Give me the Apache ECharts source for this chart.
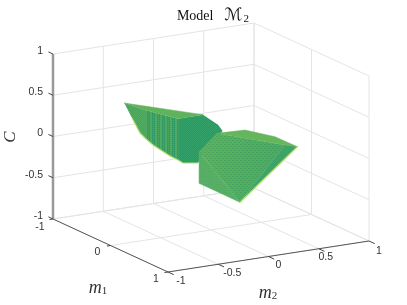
<!DOCTYPE html>
<html><head><meta charset="utf-8">
<style>html,body{margin:0;padding:0;background:#fff}#c{width:407px;height:305px;filter:blur(0.5px)}</style>
<script src="https://cdn.jsdelivr.net/npm/echarts@6/dist/echarts.min.js"></script>
</head><body><div id="c"></div>
<script>
// tick values
const m1Ticks=[-1,0,1];
const m2Ticks=[-1,-0.5,0,0.5,1];
const cTicks=[-1,-0.5,0,0.5,1];
const m1Labels=['-1','0','1'];
const m2Labels=['-1','-0.5','0','0.5','1'];
const cLabels=['-1','-0.5','0','0.5','1'];
// solid vertices: left wing
const leftM1=[-0.5,0,0.5,0,0,0,0.5,0.5,0.5,0.5,0.5,0,0,0,-0.5];
const leftM2=[-0.577,-0.657,-0.614,-0.08,0.07,0.116,-0.346,-0.415,-0.565,-0.614,-0.694,-0.577,-0.657,-0.706,-0.5];
const leftC=[0.487,0.578,0.625,0.413,0.263,0.178,0.195,0.051,0.079,0.124,0.188,0.139,0.239,0.308,0.291];
// right wing
const rightM1=[0.5,0,-0.5,-0.5,0,0.5,0.5,0.5];
const rightM2=[-0.405,0.057,0.624,0.923,0.859,0.45,0.002,-0.405];
const rightC=[0.186,0.161,-0.066,-0.203,-0.152,0.106,-0.504,-0.197];
// faces as vertex indices
const leftFaces=[[0,14,13,12,1],[1,12,11,10,9,2],[2,3,4,5,6,7,8,9],[0,1,2,3]];
const rightFaces=[[0,7,6],[0,1,5,6],[5,4,6],[1,2,3,4,5]];
const leftEdge=[14,13,12,11,10,9,8,7];
const rightEdge=[6,4];

// view of the 3D box, normalised to the hidden axes
function project(m1,m2,c){
  return [(57.5*m1+100.5*m2)/158,(-26.5*m1+15.5*m2+82.5*c)/124.5];
}
function tex(w,h,bg,fg,cells){
  const cv=document.createElement('canvas');cv.width=w;cv.height=h;
  const g=cv.getContext('2d');
  if(bg){g.fillStyle=bg;g.fillRect(0,0,w,h);}
  g.fillStyle=fg;cells.forEach(p=>g.fillRect(p[0],p[1],p[2]||1,p[3]||1));
  return {image:cv,repeat:'repeat'};
}
const stripes=tex(5,2,'#329c68','#50a963',[[0,0,2,2],[3,0,1,1]]);
const fine=tex(2,2,'#2a9869','#33a069',[[0,0],[1,1]]);
const fineL=tex(2,2,'#45a566','#52ab62',[[0,0],[1,1]]);
const dots=tex(4,4,null,'rgba(45,150,100,0.4)',[[0,0,2,1],[2,2,2,1]]);
const fineDots=tex(2,2,null,'rgba(45,150,100,0.2)',[[0,0]]);
const leftFills=[fineL,stripes,fine,'#60b35c'];
const lin=(x1,y1,x2,y2,a,b)=>({type:'linear',x:x1,y:y1,x2:x2,y2:y2,colorStops:[{offset:0,color:a},{offset:1,color:b}]});
const rightFills=['#5bb05e',lin(0,0,1,0.2,'#60b25d','#4caa61'),'#40a465','#64b55c'];
const rightOver=[fineDots,dots,fineDots,null];

const P=(i,m1,m2,c)=>project(m1[i],m2[i],c[i]);
function polyEl(api,pts,fill){
  return {type:'polygon',shape:{points:pts.map(p=>api.coord(p))},
    style:{fill:fill,stroke:typeof fill==='string'?fill:null,lineWidth:typeof fill==='string'?0.5:0}};
}
// box segments from tick arrays
const wallSegs=[];
cTicks.forEach(c=>{wallSegs.push([[-1,-1,c],[-1,1,c]]);wallSegs.push([[-1,1,c],[1,1,c]]);});
m2Ticks.forEach(m=>{wallSegs.push([[-1,m,-1],[-1,m,1]]);wallSegs.push([[-1,m,-1],[1,m,-1]]);});
m1Ticks.forEach(m=>{wallSegs.push([[m,1,-1],[m,1,1]]);wallSegs.push([[m,-1,-1],[m,1,-1]]);});
const axisSegs=[
  {a:[1,-1,-1],b:[-1,-1,-1],s:'#555',w:1},
  {a:[1,-1,-1],b:[1,1,-1],s:'#555',w:1},
  {a:[-1,-1,-1],b:[-1,-1,1],s:'#999',w:2.5}
];
m1Ticks.forEach(m=>axisSegs.push({a:[m,-1,-1],b:[m,-1.035,-1],s:'#444',w:1}));
m2Ticks.forEach(m=>axisSegs.push({a:[1,m,-1],b:[1.1,m,-1],s:'#444',w:1}));
cTicks.forEach(c=>axisSegs.push({a:[-1,-1,c],b:[-1.08,-1,c],s:'#444',w:1}));

const seg=(api,a,b,s,w)=>{
  const A=api.coord(project(...a)),B=api.coord(project(...b));
  return {type:'line',shape:{x1:A[0],y1:A[1],x2:B[0],y2:B[1]},style:{stroke:s,lineWidth:w}};
};
const labelFont='"Liberation Sans",Arial,sans-serif';
const labels=[];
m1Ticks.forEach((m,i)=>labels.push({p:[m,-1,-1],t:m1Labels[i],dx:[-13,-13,-12][i],dy:[8,7,7][i]}));
m2Ticks.forEach((m,i)=>labels.push({p:[1,m,-1],t:m2Labels[i],dx:[13,14,10,7,10][i],dy:[9,9,9,8,10][i]}));
cTicks.forEach((c,i)=>labels.push({p:[-1,-1,c],t:cLabels[i],dx:-10,dy:-3,right:true}));

const base={type:'custom',coordinateSystem:'cartesian2d',silent:true,clip:false,animation:false};
const serif='"Liberation Serif",serif';
const mathRich={m:{font:'italic 18px '+serif,fill:'#333'},s:{font:'11px '+serif,fill:'#333',padding:[7,0,0,0]}};
const option={
  animation:false,
  title:{text:'Model{cal|ℳ}{sub|2}',left:208,top:2,textAlign:'center',
    textStyle:{fontFamily:serif,fontSize:14,fontWeight:'normal',color:'#111',
      rich:{cal:{fontFamily:'"DejaVu Sans"',fontSize:17,color:'#111',padding:[0,0,0,11]},
            sub:{fontFamily:serif,fontSize:11,color:'#111',padding:[7,0,0,1]}}}},
  grid:{left:53,top:23,width:316,height:249,containLabel:false},
  xAxis:{type:'value',min:-1,max:1,show:false},
  yAxis:{type:'value',min:-1,max:1,show:false},
  series:[
    Object.assign({},base,{name:'box',data:wallSegs.map((s,i)=>[i]),
      renderItem:(p,api)=>{const s=wallSegs[api.value(0)];return seg(api,s[0],s[1],'#e4e4e4',1);}}),
    Object.assign({},base,{name:'left wing',data:leftFaces.map((f,i)=>[i]),
      renderItem:(p,api)=>{const i=api.value(0);
        const pts=leftFaces[i].map(k=>P(k,leftM1,leftM2,leftC));
        return polyEl(api,pts,leftFills[i]);}}),
    Object.assign({},base,{name:'left edge',data:[[0]],
      renderItem:(p,api)=>({type:'polyline',shape:{points:leftEdge.map(k=>api.coord(P(k,leftM1,leftM2,leftC)))},
        style:{fill:null,stroke:'#b4e06c',lineWidth:1.2}})}),
    Object.assign({},base,{name:'right wing',data:rightFaces.map((f,i)=>[i]),
      renderItem:(p,api)=>{const i=api.value(0);
        const pts=rightFaces[i].map(k=>P(k,rightM1,rightM2,rightC));
        const ch=[polyEl(api,pts,rightFills[i])];
        if(rightOver[i])ch.push(polyEl(api,pts,rightOver[i]));
        return {type:'group',children:ch};}}),
    Object.assign({},base,{name:'right edge',data:[[0]],
      renderItem:(p,api)=>({type:'polyline',shape:{points:rightEdge.map(k=>api.coord(P(k,rightM1,rightM2,rightC)))},
        style:{fill:null,stroke:'#b4e06c',lineWidth:1.2}})}),
    Object.assign({},base,{name:'axes',data:axisSegs.map((s,i)=>[i]),
      renderItem:(p,api)=>{const s=axisSegs[api.value(0)];return seg(api,s.a,s.b,s.s,s.w);}}),
    Object.assign({},base,{name:'tick labels',data:labels.map((s,i)=>[i]),
      renderItem:(p,api)=>{const l=labels[api.value(0)];const c=api.coord(project(...l.p));
        return {type:'text',x:c[0]+l.dx,y:c[1]+l.dy,
          style:{text:l.t,fill:'#333',font:'10.5px '+labelFont,
            textAlign:l.right?'right':'center',textVerticalAlign:'middle'}};}})
  ],
  graphic:[
    {type:'text',x:98,y:288,style:{text:'{m|m}{s|1}',textAlign:'center',textVerticalAlign:'middle',rich:mathRich}},
    {type:'text',x:268,y:293,style:{text:'{m|m}{s|2}',textAlign:'center',textVerticalAlign:'middle',rich:mathRich}},
    {type:'text',x:11,y:137,rotation:Math.PI/2,style:{text:'C',font:'italic 17px '+serif,fill:'#333',textAlign:'center',textVerticalAlign:'middle'}}
  ]
};
echarts.init(document.getElementById('c'),null,{renderer:'canvas'}).setOption(option);
</script></body></html>
